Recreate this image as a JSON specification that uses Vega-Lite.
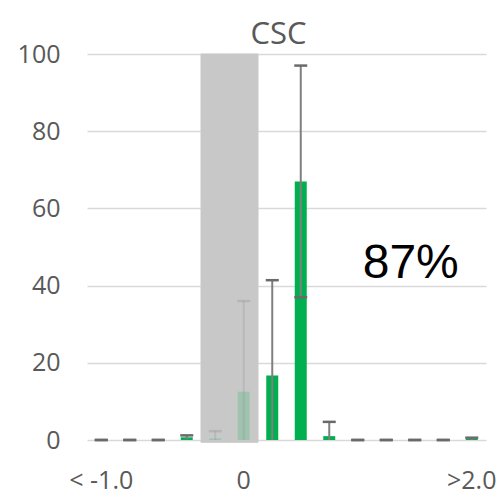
{
  "$schema": "https://vega.github.io/schema/vega-lite/v6.json",
  "autosize": "none",
  "width": 399,
  "height": 386,
  "padding": {"left": 87, "top": 54, "right": 17, "bottom": 60},
  "background": "white",
  "title": {"text": "CSC", "font": "Open Sans", "fontSize": 31, "fontWeight": "normal", "color": "#595959", "offset": -9, "dx": -8},
  "config": {"view": {"stroke": null}, "font": "Open Sans"},
  "datasets": {
    "bins": [
      {"cat": "<-1.0", "v": 0, "hi": 0, "lo": 0, "locap": 0, "shaded": false},
      {"cat": "-1.0", "v": 0, "hi": 0, "lo": 0, "locap": 0, "shaded": false},
      {"cat": "-0.75", "v": 0, "hi": 0, "lo": 0, "locap": 0, "shaded": false},
      {"cat": "-0.5", "v": 0.7, "hi": 1.2, "lo": 0.2, "locap": null, "shaded": false},
      {"cat": "-0.25", "v": 0.4, "hi": 2.3, "lo": 0, "locap": null, "shaded": true},
      {"cat": "0", "v": 12.5, "hi": 36, "lo": 0, "locap": null, "shaded": true},
      {"cat": "0.25", "v": 16.7, "hi": 41.4, "lo": 0, "locap": null, "shaded": false},
      {"cat": "0.5", "v": 67, "hi": 97, "lo": 37, "locap": 37, "shaded": false},
      {"cat": "0.75", "v": 1, "hi": 4.7, "lo": 0, "locap": null, "shaded": false},
      {"cat": "1.0", "v": 0, "hi": 0, "lo": 0, "locap": 0, "shaded": false},
      {"cat": "1.25", "v": 0, "hi": 0, "lo": 0, "locap": 0, "shaded": false},
      {"cat": "1.5", "v": 0, "hi": 0, "lo": 0, "locap": 0, "shaded": false},
      {"cat": "1.75", "v": 0, "hi": 0, "lo": 0, "locap": 0, "shaded": false},
      {"cat": ">2.0", "v": 0.3, "hi": 0.6, "lo": 0, "locap": null, "shaded": false}
    ],
    "shade": [
      {"cat": "-0.25", "top": 100, "bottom": -0.6},
      {"cat": "0", "top": 100, "bottom": -0.6}
    ],
    "note": [
      {"cat": "1.5", "y": 42, "label": "87%"}
    ]
  },
  "encoding": {
    "x": {
      "field": "cat",
      "type": "nominal",
      "scale": {
        "domain": ["<-1.0", "-1.0", "-0.75", "-0.5", "-0.25", "0", "0.25", "0.5", "0.75", "1.0", "1.25", "1.5", "1.75", ">2.0"],
        "paddingInner": 0,
        "paddingOuter": 0
      },
      "axis": {
        "title": null,
        "domain": false,
        "ticks": false,
        "labelAngle": 0,
        "labelOverlap": false,
        "labelPadding": 28,
        "labelFontSize": 25,
        "labelColor": "#595959",
        "labelFont": "Open Sans",
        "labelExpr": "datum.value == '<-1.0' ? '< -1.0' : (datum.value == '0' || datum.value == '>2.0') ? datum.value : ''"
      }
    }
  },
  "layer": [
    {
      "data": {"name": "shade"},
      "mark": {"type": "bar", "width": {"band": 1}, "color": "#c8c8c8", "stroke": "#c8c8c8", "strokeWidth": 1},
      "encoding": {
        "y": {
          "field": "top",
          "type": "quantitative",
          "scale": {"domain": [0, 100], "nice": false},
          "axis": {
            "title": null,
            "values": [0, 20, 40, 60, 80, 100],
            "domain": false,
            "ticks": false,
            "gridColor": "#d9d9d9",
            "gridWidth": 1.5,
            "labelPadding": 27,
            "labelFontSize": 25,
            "labelColor": "#595959",
            "labelFont": "Open Sans"
          }
        },
        "y2": {"field": "bottom"}
      }
    },
    {
      "data": {"name": "bins"},
      "mark": {"type": "bar", "size": 12, "color": "#00b050"},
      "encoding": {
        "y": {"field": "v", "type": "quantitative"},
        "opacity": {"condition": {"test": "datum.shaded", "value": 0.2}, "value": 1}
      }
    },
    {
      "data": {"name": "bins"},
      "mark": {"type": "rule", "color": "#7f7f7f", "strokeWidth": 2},
      "encoding": {
        "y": {"field": "lo", "type": "quantitative"},
        "y2": {"field": "hi"},
        "opacity": {"condition": {"test": "datum.shaded", "value": 0.2}, "value": 1}
      }
    },
    {
      "data": {"name": "bins"},
      "mark": {"type": "tick", "color": "#6a6a6a", "size": 13, "thickness": 2.5},
      "encoding": {
        "y": {"field": "hi", "type": "quantitative"},
        "opacity": {"condition": {"test": "datum.shaded", "value": 0.2}, "value": 1}
      }
    },
    {
      "data": {"name": "bins"},
      "mark": {"type": "tick", "color": "#6a6a6a", "size": 13, "thickness": 2.5},
      "encoding": {
        "y": {"field": "locap", "type": "quantitative"},
        "opacity": {"condition": {"test": "datum.shaded", "value": 0.2}, "value": 1}
      }
    },
    {
      "data": {"name": "note"},
      "mark": {"type": "text", "font": "Liberation Sans", "fontSize": 48, "color": "#000000", "align": "center", "baseline": "alphabetic", "dx": -4},
      "encoding": {
        "y": {"field": "y", "type": "quantitative"},
        "text": {"field": "label"}
      }
    }
  ]
}
